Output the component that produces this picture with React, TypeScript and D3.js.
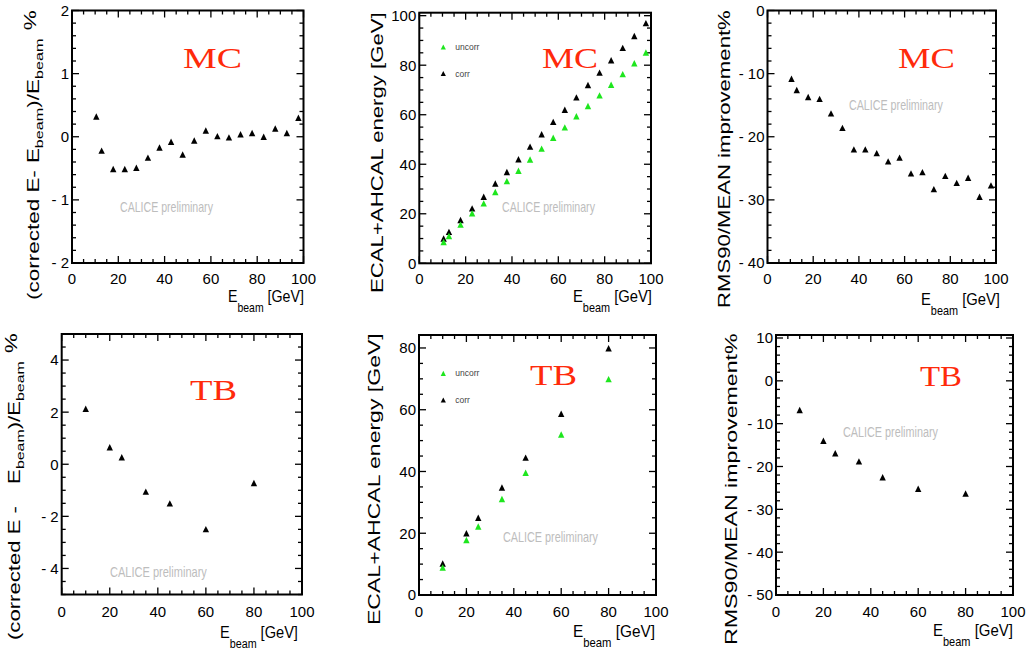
import { useLayoutEffect, useRef, useState, type ReactNode } from 'react';
import * as d3 from 'd3';

const WIDTH = 1026;
const HEIGHT = 651;

// ---- data ----

// MC beam energies (GeV)
const mcEnergy = [10.5, 12.8, 17.8, 22.8, 27.8, 32.8, 37.8, 42.8, 47.8, 52.8, 57.8, 62.8, 67.8, 72.8, 77.8, 82.8, 87.8, 92.8, 97.8];
// (corrected E - Ebeam)/Ebeam in %
const mcLinearity = [0.32, -0.22, -0.51, -0.51, -0.49, -0.33, -0.17, -0.08, -0.28, -0.06, 0.1, 0.01, -0.01, 0.04, 0.06, 0.0, 0.13, 0.06, 0.3];
// ECAL+AHCAL reconstructed energy (GeV)
const mcUncorr = [8.6, 11, 15.6, 20.2, 24.2, 28.8, 33.2, 37.4, 41.9, 46.3, 50.7, 54.9, 59.4, 63.5, 67.8, 72.1, 76.4, 80.8, 85.1];
const mcCorr = [10, 12.7, 17.5, 22.2, 26.9, 32.2, 36.9, 42, 47.1, 52.1, 57.1, 62, 67, 72, 77, 82, 87, 91.8, 97];
// RMS90/MEAN improvement in %
const mcRmsGain = [-10.8, -12.6, -13.7, -14.0, -16.3, -18.6, -22.0, -22.0, -22.6, -23.9, -23.3, -25.8, -25.6, -28.3, -26.2, -27.3, -26.5, -29.5, -27.7];

// test beam
const tbEnergy = [10, 20, 25, 35, 45, 60, 80];
const tbLinearity = [2.13, 0.65, 0.27, -1.05, -1.5, -2.49, -0.72];
const tbUncorr = [8.9, 17.8, 22.2, 31.1, 39.6, 52, 69.9];
const tbCorr = [10.2, 20, 25, 34.8, 44.5, 58.7, 79.9];
const tbRmsGain = [-6.8, -14, -16.9, -18.8, -22.5, -25.2, -26.3];

const legendLabels = ['uncorr', 'corr'];

const GREEN = '#1ee61e';
const RED = '#ff2a0a';
const SANS = '"Liberation Sans", Arial, Helvetica, sans-serif';
const SERIF = '"Liberation Serif", "Times New Roman", serif';

// text that is stretched to a measured length
function FitText({ x, y, length, rotate = 0, children, ...rest }: {
  x: number; y: number; length: number; rotate?: number; children: ReactNode; [k: string]: unknown;
}) {
  const ref = useRef<SVGTextElement>(null);
  const [k, setK] = useState(1);
  useLayoutEffect(() => {
    const node = ref.current;
    if (!node) return;
    const w = node.getBBox().width;
    if (w > 0) setK(length / w);
  }, [length]);
  return (
    <text ref={ref} transform={`translate(${x},${y}) rotate(${rotate}) scale(${k},1)`} {...rest}>
      {children}
    </text>
  );
}

const correctedTitle = (gap: number, dash: string) => (
  <>
    {dash}
    <tspan dx={gap}>E</tspan>
    <tspan dy={4} fontSize={11.5}>beam</tspan>
    <tspan dy={-4}>)/E</tspan>
    <tspan dy={4} fontSize={11.5}>beam</tspan>
    <tspan dy={-7} dx={6}>%</tspan>
  </>
);

type Series = { xs: number[]; ys: number[]; color: string };
type Place = { x: number; y: number; len: number };

interface Panel {
  key: string;
  frame: [number, number, number, number]; // left, right, top, bottom
  yDomain: [number, number];
  yMajor: number;
  yMinor: number;
  series: Series[];
  legend?: { x: number; ys: [number, number] };
  tag: Place & { text: string };
  calice: Place;
  yTitle: Place & { content: ReactNode };
  xTitle: Place;
  xLabelY: number;
}

const PANELS: Panel[] = [
  {
    key: 'mc-lin', frame: [72, 303.5, 10.5, 263], yDomain: [-2, 2], yMajor: 1, yMinor: 0.2,
    series: [{ xs: mcEnergy, ys: mcLinearity, color: '#000' }],
    tag: { text: 'MC', x: 183, y: 68, len: 59 },
    calice: { x: 120, y: 212, len: 93 },
    yTitle: { x: 39, y: 300, len: 290, content: correctedTitle(5, '(corrected E-') },
    xTitle: { x: 228, y: 302, len: 76 },
    xLabelY: 284,
  },
  {
    key: 'mc-e', frame: [419.3, 651, 12.7, 263.3], yDomain: [0, 101.2], yMajor: 20, yMinor: 5,
    series: [
      { xs: mcEnergy, ys: mcCorr, color: '#000' },
      { xs: mcEnergy, ys: mcUncorr, color: GREEN },
    ],
    legend: { x: 443.3, ys: [47, 73.5] },
    tag: { text: 'MC', x: 542, y: 68, len: 56 },
    calice: { x: 502, y: 212, len: 93 },
    yTitle: { x: 383, y: 293, len: 281, content: 'ECAL+AHCAL energy [GeV]' },
    xTitle: { x: 573, y: 302, len: 79 },
    xLabelY: 284,
  },
  {
    key: 'mc-rms', frame: [767.5, 996, 10.5, 263], yDomain: [-40, 0], yMajor: 10, yMinor: 2,
    series: [{ xs: mcEnergy, ys: mcRmsGain, color: '#000' }],
    tag: { text: 'MC', x: 898, y: 68, len: 57 },
    calice: { x: 849, y: 110, len: 94 },
    yTitle: { x: 730, y: 308, len: 298, content: 'RMS90/MEAN improvement%' },
    xTitle: { x: 921, y: 305, len: 79 },
    xLabelY: 284,
  },
  {
    key: 'tb-lin', frame: [61.7, 302, 334, 594.5], yDomain: [-5, 5], yMajor: 2, yMinor: 0.5,
    series: [{ xs: tbEnergy, ys: tbLinearity, color: '#000' }],
    tag: { text: 'TB', x: 190, y: 400, len: 47 },
    calice: { x: 110, y: 577, len: 97 },
    yTitle: { x: 20, y: 640, len: 307, content: correctedTitle(16, '(corrected E -') },
    xTitle: { x: 220, y: 638, len: 78 },
    xLabelY: 617,
  },
  {
    key: 'tb-e', frame: [419, 656, 335, 595], yDomain: [0, 84.2], yMajor: 20, yMinor: 5,
    series: [
      { xs: tbEnergy, ys: tbCorr, color: '#000' },
      { xs: tbEnergy, ys: tbUncorr, color: GREEN },
    ],
    legend: { x: 443.3, ys: [373.3, 400] },
    tag: { text: 'TB', x: 530, y: 385, len: 47 },
    calice: { x: 503, y: 542, len: 95 },
    yTitle: { x: 380, y: 625, len: 292, content: 'ECAL+AHCAL energy [GeV]' },
    xTitle: { x: 573, y: 637, len: 82 },
    xLabelY: 617,
  },
  {
    key: 'tb-rms', frame: [776, 1013, 335, 595], yDomain: [-50, 10.7], yMajor: 10, yMinor: 2,
    series: [{ xs: tbEnergy, ys: tbRmsGain, color: '#000' }],
    tag: { text: 'TB', x: 920, y: 386, len: 42 },
    calice: { x: 843, y: 437, len: 95 },
    yTitle: { x: 737, y: 645, len: 312, content: 'RMS90/MEAN improvement%' },
    xTitle: { x: 933, y: 636, len: 80 },
    xLabelY: 617,
  },
];

const triangle = (cx: number, cy: number, s = 3.2) =>
  `M${cx},${cy - s}L${cx + s},${cy + s}L${cx - s},${cy + s}Z`;

const isMultiple = (v: number, step: number) => Math.abs(v / step - Math.round(v / step)) < 1e-6;
const fmt = (v: number) => (v < 0 ? `- ${-v}` : `${v}`);

function PanelView({ p }: { p: Panel }) {
  const [left, right, top, bottom] = p.frame;
  const x = d3.scaleLinear().domain([0, 100]).range([left, right]);
  const y = d3.scaleLinear().domain(p.yDomain).range([bottom, top]);

  const xTicks = d3.range(0, 100 + 1e-9, 5);
  const yStart = Math.ceil(p.yDomain[0] / p.yMinor - 1e-9) * p.yMinor;
  const yTicks = d3.range(yStart, p.yDomain[1] + 1e-9, p.yMinor);
  const MAJ = 7;
  const MIN = 4;

  return (
    <g>
      {/* ticks */}
      <g stroke="#000" strokeWidth={1.3}>
        {xTicks.map(v => {
          const len = isMultiple(v, 20) ? MAJ : MIN;
          const px = x(v);
          return (
            <g key={`x${v}`}>
              <line x1={px} x2={px} y1={bottom} y2={bottom - len} />
              <line x1={px} x2={px} y1={top} y2={top + len} />
            </g>
          );
        })}
        {yTicks.map(v => {
          const len = isMultiple(v, p.yMajor) ? MAJ : MIN;
          const py = y(v);
          return (
            <g key={`y${v}`}>
              <line x1={left} x2={left + len} y1={py} y2={py} />
              <line x1={right} x2={right - len} y1={py} y2={py} />
            </g>
          );
        })}
      </g>
      <rect x={left} y={top} width={right - left} height={bottom - top} fill="none" stroke="#000" strokeWidth={2} />

      {/* tick labels */}
      <g fontFamily={SANS} fontSize={15} fill="#000">
        {xTicks.filter(v => isMultiple(v, 20)).map(v => (
          <text key={`xl${v}`} x={x(v)} y={p.xLabelY} textAnchor="middle">{v}</text>
        ))}
        {yTicks.filter(v => isMultiple(v, p.yMajor)).map(v => (
          <text key={`yl${v}`} x={left - 3} y={y(v)} dy="0.36em" textAnchor="end">{fmt(Math.round(v * 1000) / 1000)}</text>
        ))}
      </g>

      {/* markers */}
      {p.series.map((s, si) => (
        <g key={si} fill={s.color}>
          {s.xs.map((xv, i) => (
            <path key={i} d={triangle(x(xv), y(s.ys[i]))} />
          ))}
        </g>
      ))}

      {/* legend */}
      {p.legend && (
        <g fontFamily={SANS} fontSize={8.5} fill="#444">
          {legendLabels.map((lab, i) => (
            <g key={lab}>
              <path d={triangle(p.legend!.x, p.legend!.ys[i], 2.6)} fill={i === 0 ? GREEN : '#000'} />
              <text x={p.legend!.x + 12} y={p.legend!.ys[i] + 3}>{lab}</text>
            </g>
          ))}
        </g>
      )}

      {/* labels */}
      <FitText x={p.tag.x} y={p.tag.y} length={p.tag.len} fontFamily={SERIF} fontSize={30} fill={RED}>
        {p.tag.text}
      </FitText>
      <FitText x={p.calice.x} y={p.calice.y} length={p.calice.len} fontFamily={SANS} fontSize={14} fill="#bdbdbd">
        CALICE preliminary
      </FitText>
      <FitText x={p.yTitle.x} y={p.yTitle.y} length={p.yTitle.len} rotate={-90} fontFamily={SANS} fontSize={16} fill="#000">
        {p.yTitle.content}
      </FitText>
      <FitText x={p.xTitle.x} y={p.xTitle.y} length={p.xTitle.len} fontFamily={SANS} fontSize={17} fill="#000">
        E
        <tspan dy={10} fontSize={12.5}>beam</tspan>
        <tspan dy={-10}> [GeV]</tspan>
      </FitText>
    </g>
  );
}

export default function App() {
  return (
    <div style={{ position: 'absolute', left: 0, top: 0, width: WIDTH, height: HEIGHT, background: '#fff' }}>
      <svg width={WIDTH} height={HEIGHT} style={{ display: 'block' }}>
        {PANELS.map(p => <PanelView key={p.key} p={p} />)}
      </svg>
    </div>
  );
}
